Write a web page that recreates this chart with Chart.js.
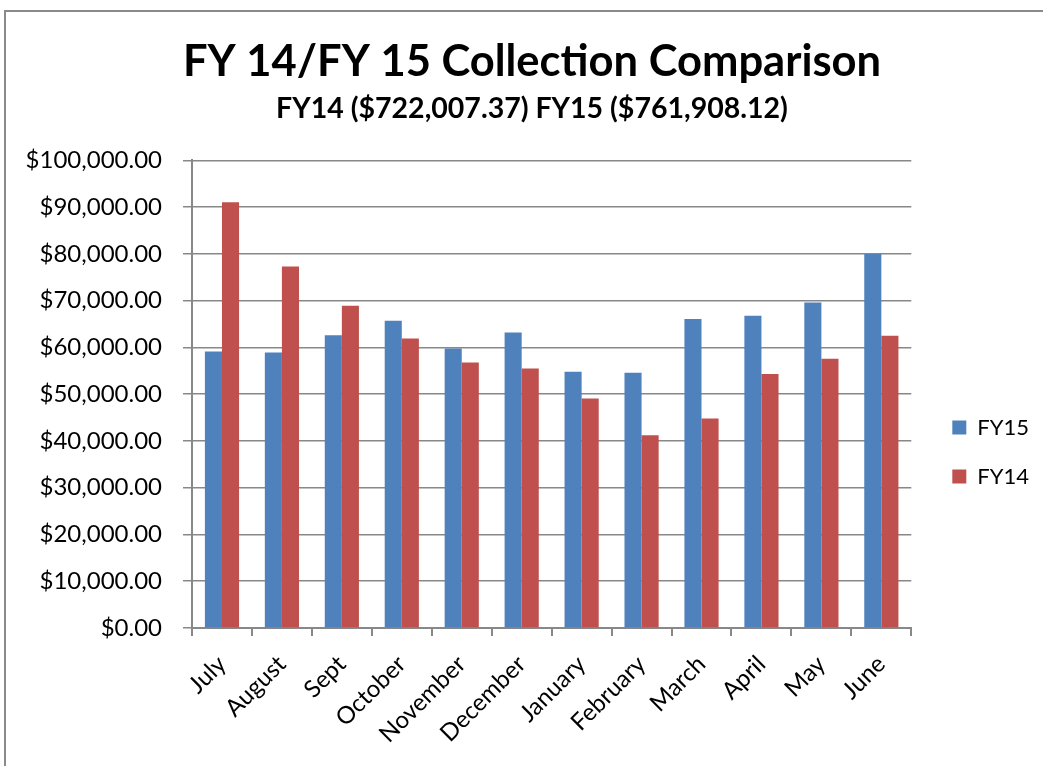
<!DOCTYPE html>
<html>
<head>
<meta charset="utf-8">
<script src="https://cdn.jsdelivr.net/npm/chart.js@4.4.1/dist/chart.umd.min.js"></script>
<style>
body{margin:0;background:#fff;overflow:hidden;}
#rahmen{position:absolute;left:4px;top:10px;width:1100px;height:800px;border:2px solid #8a8a8a;}
#kutu{position:absolute;left:0;top:0;width:1043px;height:766px;}
</style>
</head>
<body>
<div id="rahmen"></div>
<div id="kutu"><canvas id="grafik" width="1043" height="766"></canvas></div>
<script>
// aylar ve tahsilat degerleri
var aylar=['July','August','Sept','October','November','December','January','February','March','April','May','June'];
var fy15=[59140,58900,62600,65700,59800,63200,54800,54600,66100,66800,69600,80000];
var fy14=[91070,77300,68900,61900,56800,55500,49100,41200,44800,54300,57600,62500];
var baslik='FY 14/FY 15 Collection Comparison';
var altBaslik='FY14 ($722,007.37) FY15 ($761,908.12)';

var yazi='Lato, "Open Sans", sans-serif';
Chart.defaults.font.family=yazi;
Chart.defaults.color='#000';

const ctx=document.getElementById('grafik').getContext('2d');
const grafik=new Chart(ctx,{
	type:'bar',
	data:{
		labels:aylar,
		datasets:[
			{label:'FY15',data:fy15,backgroundColor:'#4F81BD',borderWidth:0,categoryPercentage:0.57,barPercentage:1},
			{label:'FY14',data:fy14,backgroundColor:'#C0504D',borderWidth:0,categoryPercentage:0.57,barPercentage:1}
		]
	},
	options:{
		responsive:false,
		animation:false,
		layout:{padding:{left:25,right:4,top:0,bottom:0}},
		plugins:{
			title:{display:true,text:baslik,font:{size:43.5,weight:'bold'},padding:{top:36,bottom:4}},
			subtitle:{display:true,text:altBaslik,font:{size:28.5,weight:'bold'},padding:{bottom:34}},
			legend:{
				position:'right',
				title:{display:true,text:'',font:{size:10},padding:{top:126,bottom:0}},
				labels:{boxWidth:14,boxHeight:14,font:{size:22},padding:27,color:'#000'}
			},
			tooltip:{enabled:false}
		},
		scales:{
			x:{
				grid:{drawOnChartArea:false,drawTicks:true,tickLength:8,color:'#888',lineWidth:2},
				border:{color:'#888',width:2},
				ticks:{font:{size:24},maxRotation:45,minRotation:45,padding:14,color:'#000'},
				afterFit:function(s){s.height=138;}
			},
			y:{
				min:0,max:100000,
				grid:{color:'#888',lineWidth:1.5,tickLength:9},
				border:{color:'#888',width:2},
				ticks:{stepSize:10000,font:{size:24},padding:21,color:'#000',
					callback:function(v){return '$'+v.toLocaleString('en-US',{minimumFractionDigits:2,maximumFractionDigits:2});}},
				afterFit:function(s){s.width=167;}
			},
			y2:{
				position:'right',
				grid:{display:false},
				border:{display:false},
				ticks:{display:false},
				afterFit:function(s){s.width=14;}
			}
		}
	}
});
</script>
</body>
</html>
